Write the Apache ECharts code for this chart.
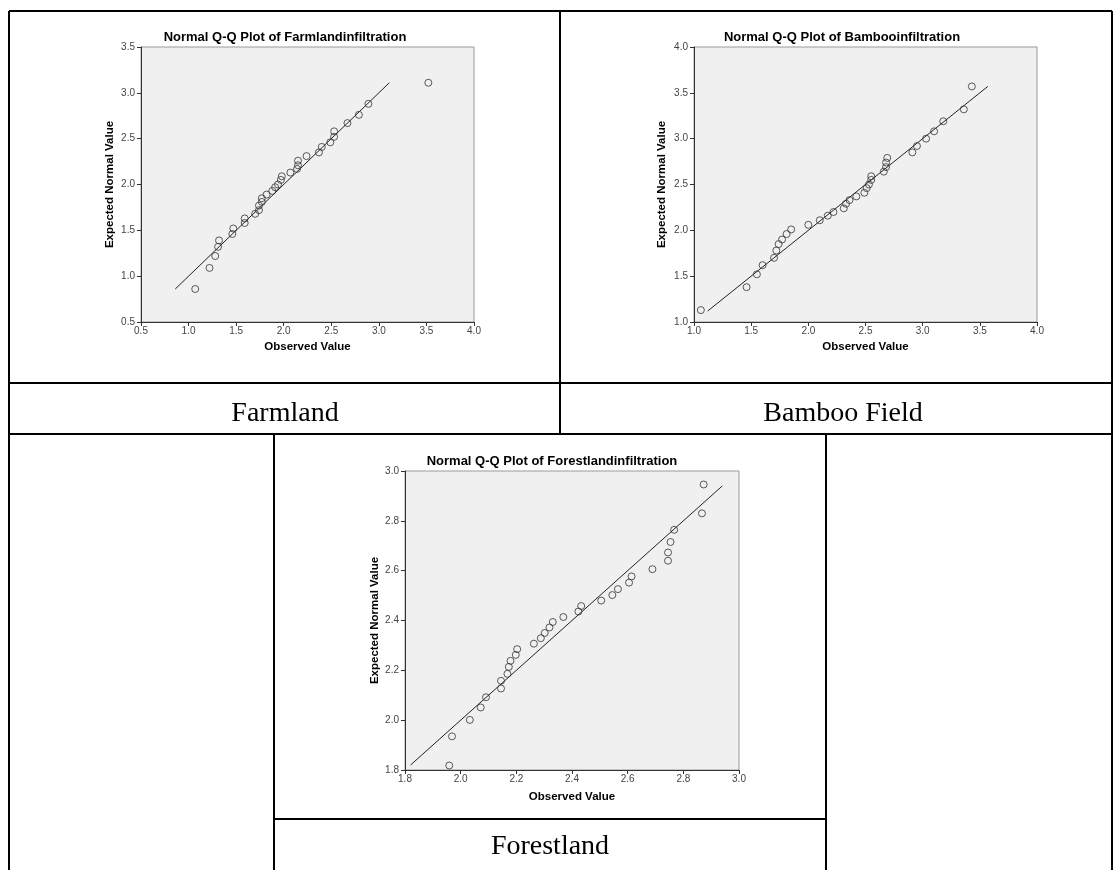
<!DOCTYPE html>
<html><head><meta charset="utf-8">
<script src="https://cdn.jsdelivr.net/npm/echarts@6/dist/echarts.min.js"></script>
<style>html,body{margin:0;padding:0;background:#fff;} #c{width:1115px;height:870px;}</style>
</head><body><div id="c"></div>
<script>
// ---- Data ----
const farmObserved = [1.07,1.22,1.28,1.31,1.32,1.46,1.47,1.59,1.59,1.70,1.74,1.74,1.77,1.77,1.82,1.88,1.91,1.94,1.97,1.98,2.07,2.14,2.15,2.15,2.24,2.37,2.40,2.49,2.53,2.53,2.67,2.79,2.89,3.52];
const farmExpected = [0.86,1.09,1.22,1.32,1.39,1.46,1.52,1.58,1.63,1.68,1.72,1.77,1.81,1.85,1.89,1.93,1.97,2.00,2.05,2.09,2.13,2.17,2.21,2.26,2.31,2.35,2.41,2.46,2.52,2.58,2.67,2.76,2.88,3.11];
const farmLine = [0.86, 3.11];

const bambooObserved = [1.06,1.46,1.55,1.60,1.70,1.72,1.74,1.77,1.81,1.85,2.00,2.10,2.17,2.22,2.31,2.33,2.36,2.42,2.49,2.51,2.53,2.55,2.55,2.66,2.68,2.68,2.69,2.91,2.95,3.03,3.10,3.18,3.36,3.43];
const bambooExpected = [1.13,1.38,1.52,1.62,1.70,1.78,1.85,1.90,1.96,2.01,2.06,2.11,2.16,2.20,2.24,2.29,2.33,2.37,2.41,2.46,2.50,2.55,2.59,2.64,2.69,2.74,2.79,2.85,2.92,3.00,3.08,3.19,3.32,3.57];
const bambooLine = [1.12, 3.57];

const forestObserved = [1.959,1.969,2.033,2.072,2.091,2.145,2.145,2.168,2.173,2.179,2.198,2.203,2.263,2.288,2.302,2.319,2.331,2.369,2.423,2.433,2.505,2.545,2.565,2.605,2.614,2.689,2.745,2.745,2.754,2.767,2.867,2.873];
const forestExpected = [1.818,1.935,2.001,2.051,2.092,2.127,2.158,2.186,2.214,2.238,2.262,2.285,2.307,2.329,2.350,2.372,2.394,2.414,2.436,2.458,2.480,2.502,2.526,2.552,2.577,2.606,2.640,2.673,2.715,2.764,2.830,2.946];
const forestLine = [1.82, 2.94];

// axis ranges: [min, max, interval]
const farmXRange = [0.5, 4.0, 0.5];
const farmYRange = [0.5, 3.5, 0.5];
const bambooXRange = [1.0, 4.0, 0.5];
const bambooYRange = [1.0, 4.0, 0.5];
const forestXRange = [1.8, 3.0, 0.2];
const forestYRange = [1.8, 3.0, 0.2];

const plotTitles = ['Normal Q-Q Plot of Farmlandinfiltration','Normal Q-Q Plot of Bambooinfiltration','Normal Q-Q Plot of Forestlandinfiltration'];
const cellLabels = ['Farmland','Bamboo Field','Forestland'];
const xName = 'Observed Value';
const yName = 'Expected Normal Value';

// ---- Chart ----
const chart = echarts.init(document.getElementById('c'), null, {renderer:'canvas'});
function fmt(v){ return Number(v).toFixed(1); }
function mkAxis(range, gi, name, gap, isY){
  return {type:'value', gridIndex:gi, min:range[0], max:range[1], interval:range[2],
    name:name, nameLocation:'middle', nameGap:gap, nameRotate:isY?90:0,
    nameTextStyle:{fontFamily:'Liberation Sans', fontWeight:'bold', fontSize:11.5, color:'#000'},
    axisLine:{show:true, onZero:false, lineStyle:{color:'#333', width:1}},
    axisTick:{show:true, length:4, lineStyle:{color:'#333'}},
    axisLabel:{formatter:fmt, fontFamily:'Liberation Sans', fontSize:10, color:'#444', margin:isY?6:4},
    splitLine:{show:false}};
}
function pts(xs, ys){ return xs.map((x,i)=>[x, ys[i]]); }
function scat(i, xs, ys){
  return {type:'scatter', xAxisIndex:i, yAxisIndex:i, data:pts(xs, ys), symbol:'circle', symbolSize:7,
    itemStyle:{color:'rgba(0,0,0,0)', borderColor:'#333', borderWidth:1}, silent:true, z:3};
}
function ref(i, ends){
  return {type:'line', xAxisIndex:i, yAxisIndex:i, data:ends.map(v=>[v,v]), symbol:'none',
    lineStyle:{color:'#222', width:1}, silent:true, z:2};
}
const gridStyle = {show:true, backgroundColor:'#f0f0f0', borderColor:'#999', borderWidth:1};

function hline(x1,x2,y){ return {type:'line', shape:{x1:x1,y1:y,x2:x2,y2:y}, style:{stroke:'#000', lineWidth:2}}; }
function vline(x,y1,y2){ return {type:'line', shape:{x1:x,y1:y1,x2:x,y2:y2}, style:{stroke:'#000', lineWidth:2}}; }
function txt(x,y,t,font){ return {type:'text', x:x, y:y, style:{text:t, font:font, fill:'#000', textAlign:'center', textVerticalAlign:'middle'}}; }

const titleFont = 'bold 13px "Liberation Sans", Arial, sans-serif';
const cellFont = '28px "Liberation Serif", "Times New Roman", serif';

chart.setOption({
  animation:false,
  backgroundColor:'#fff',
  grid:[
    Object.assign({left:141, top:47, width:333, height:275}, gridStyle),
    Object.assign({left:694, top:47, width:343, height:275}, gridStyle),
    Object.assign({left:405, top:471, width:334, height:299}, gridStyle)
  ],
  xAxis:[
    mkAxis(farmXRange,0,xName,19,false),
    mkAxis(bambooXRange,1,xName,19,false),
    mkAxis(forestXRange,2,xName,21,false)
  ],
  yAxis:[
    mkAxis(farmYRange,0,yName,25,true),
    mkAxis(bambooYRange,1,yName,26,true),
    mkAxis(forestYRange,2,yName,24,true)
  ],
  series:[
    ref(0, farmLine), scat(0, farmObserved, farmExpected),
    ref(1, bambooLine), scat(1, bambooObserved, bambooExpected),
    ref(2, forestLine), scat(2, forestObserved, forestExpected)
  ],
  graphic:[
    hline(9,1112,11), vline(9,11,870), vline(1112,11,870),
    vline(560,11,434), hline(9,1112,383), hline(9,1112,434),
    vline(274,434,870), vline(826,434,870), hline(274,826,819),
    txt(285,37,plotTitles[0],titleFont),
    txt(842,37,plotTitles[1],titleFont),
    txt(552,461,plotTitles[2],titleFont),
    txt(285,414,cellLabels[0],cellFont),
    txt(843,414,cellLabels[1],cellFont),
    txt(550,847,cellLabels[2],cellFont)
  ]
});
</script></body></html>
